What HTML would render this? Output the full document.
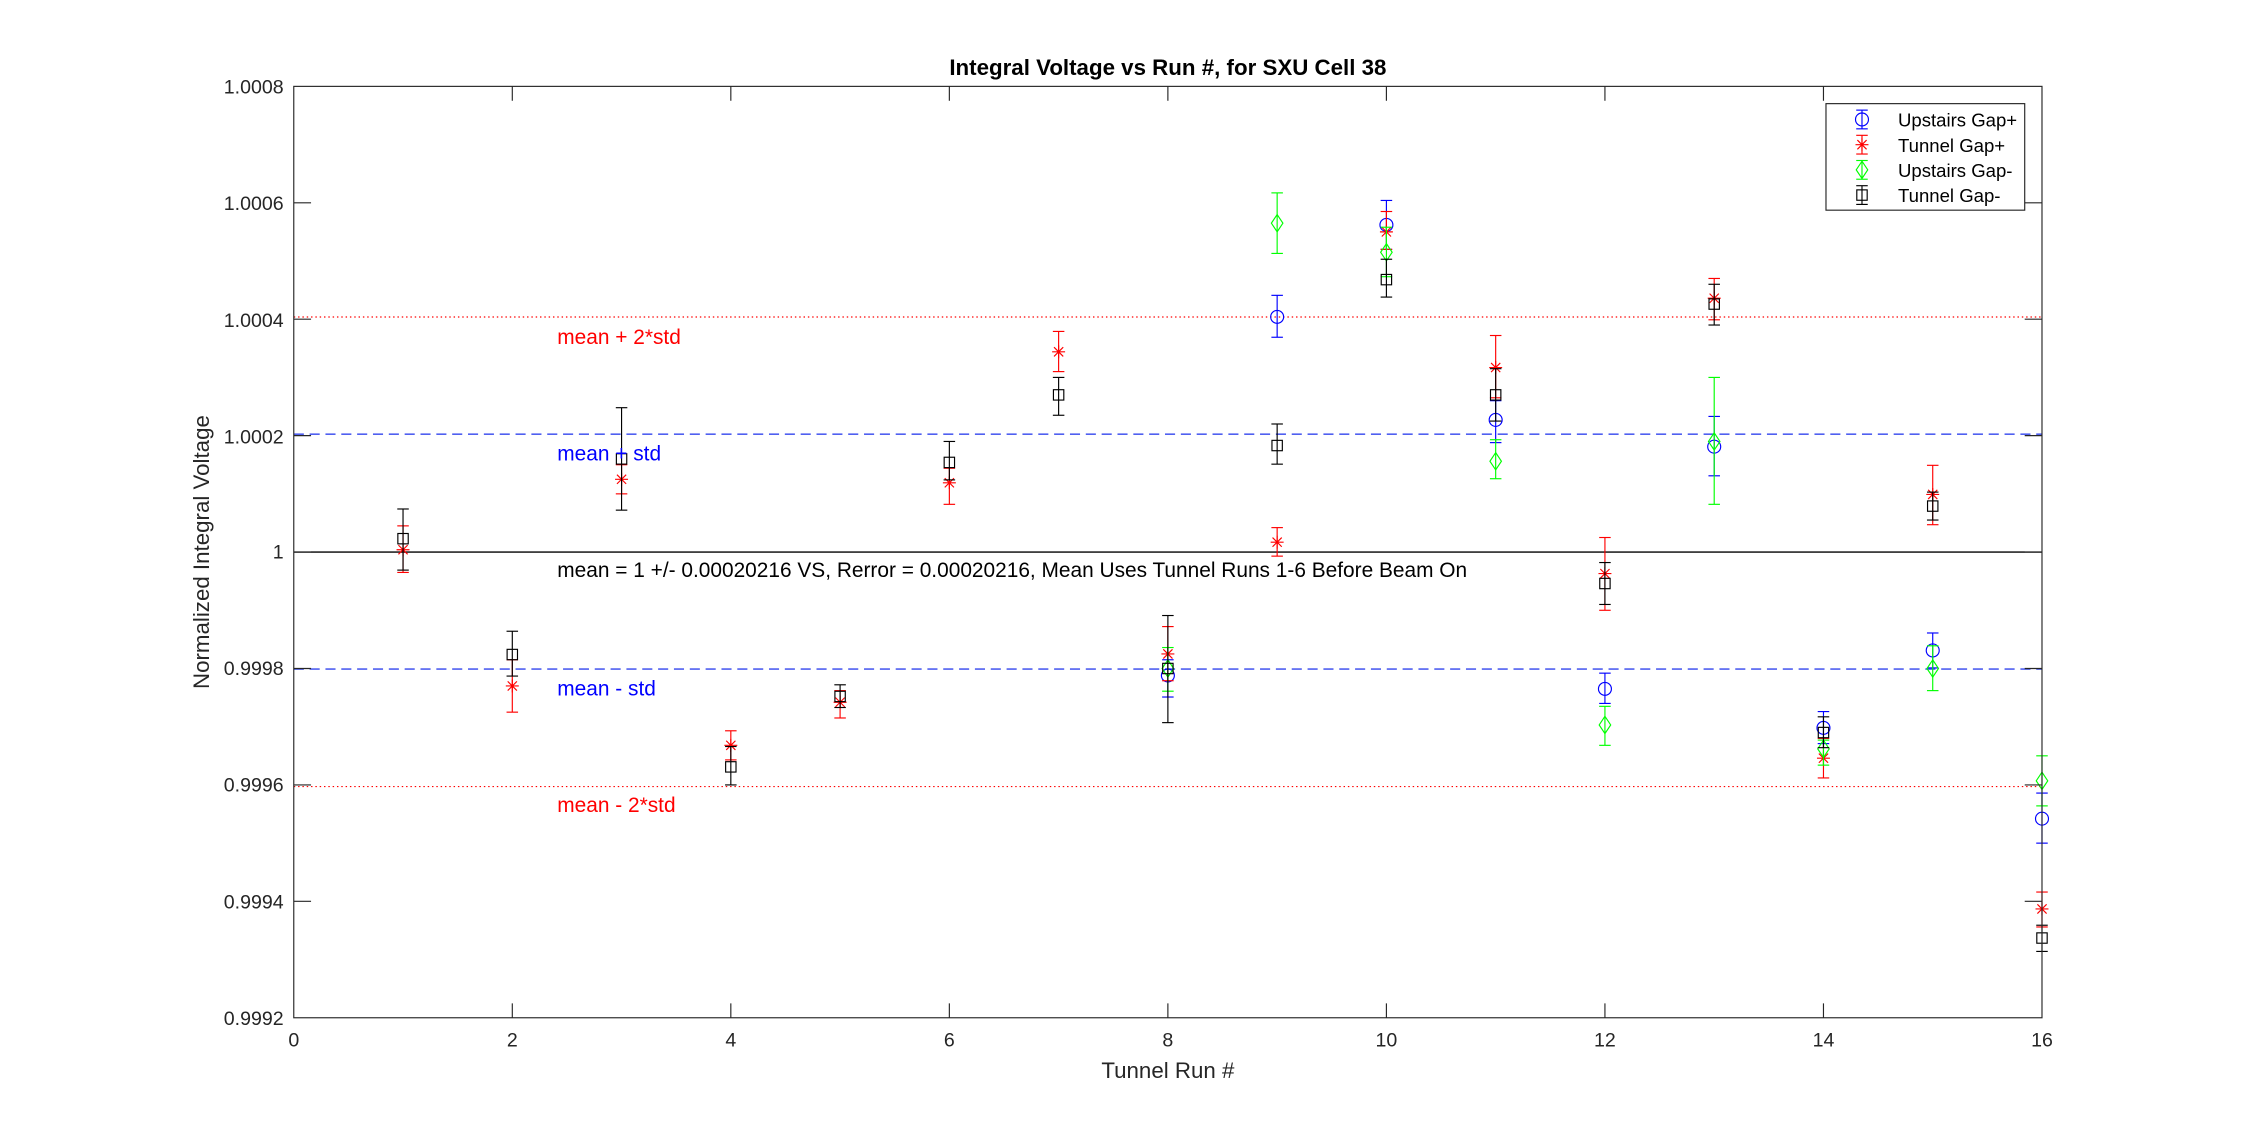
<!DOCTYPE html>
<html><head><meta charset="utf-8"><style>
html,body{margin:0;padding:0;background:#fff;}
svg{display:block;}
text{font-family:"Liberation Sans",Arial,sans-serif;}
</style></head><body>
<svg id="s" width="2258" height="1143" viewBox="0 0 1568 794" preserveAspectRatio="none" xmlns="http://www.w3.org/2000/svg">
<rect x="0" y="0" width="1568" height="794" fill="#fff"/>
<line x1="204" y1="220.2" x2="1418" y2="220.2" stroke="#f00" stroke-width="0.8" stroke-dasharray="1,2"/>
<line x1="204" y1="301.6" x2="1418" y2="301.6" stroke="#5060f0" stroke-width="1.1" stroke-dasharray="7,4"/>
<line x1="204" y1="464.8" x2="1418" y2="464.8" stroke="#5060f0" stroke-width="1.1" stroke-dasharray="7,4"/>
<line x1="204" y1="546.4" x2="1418" y2="546.4" stroke="#f00" stroke-width="0.8" stroke-dasharray="1,2"/>
<line x1="204" y1="383.5" x2="1418" y2="383.5" stroke="#000" stroke-width="1"/>
<g id="data" fill="none" stroke-width="0.8"></g>
<rect x="204" y="60" width="1214" height="647" fill="none" stroke="#262626" stroke-width="0.8"/>
<g id="ticks" stroke="#262626" stroke-width="0.8"></g>
<g font-size="13.6" fill="#262626" text-anchor="end">
<text x="197" y="65">1.0008</text>
<text x="197" y="146">1.0006</text>
<text x="197" y="227">1.0004</text>
<text x="197" y="308">1.0002</text>
<text x="197" y="388">1</text>
<text x="197" y="469">0.9998</text>
<text x="197" y="550">0.9996</text>
<text x="197" y="631">0.9994</text>
<text x="197" y="712">0.9992</text>
</g>
<g font-size="13.6" fill="#262626" text-anchor="middle">
<text x="204" y="727">0</text>
<text x="355.75" y="727">2</text>
<text x="507.5" y="727">4</text>
<text x="659.25" y="727">6</text>
<text x="811" y="727">8</text>
<text x="962.75" y="727">10</text>
<text x="1114.5" y="727">12</text>
<text x="1266.25" y="727">14</text>
<text x="1418" y="727">16</text>
<text x="811" y="749" font-size="15.5">Tunnel Run #</text>
<text x="811" y="52" font-size="15.5" font-weight="bold" fill="#000">Integral Voltage vs Run #, for SXU Cell 38</text>
<text transform="translate(145,383.5) rotate(-90)" font-size="15.5">Normalized Integral Voltage</text>
</g>
<g font-size="14.5">
<text x="387" y="239" fill="#f00">mean + 2*std</text>
<text x="387" y="320" fill="#00f">mean + std</text>
<text x="387" y="401" fill="#000">mean = 1 +/- 0.00020216 VS, Rerror = 0.00020216, Mean Uses Tunnel Runs 1-6 Before Beam On</text>
<text x="387" y="483" fill="#00f">mean - std</text>
<text x="387" y="564" fill="#f00">mean - 2*std</text>
</g>
<rect x="1268" y="72" width="138" height="74" fill="#fff" stroke="#262626" stroke-width="0.8"/>
<g font-size="12.9" fill="#000">
<text x="1318" y="88">Upstairs Gap+</text>
<text x="1318" y="105.5">Tunnel Gap+</text>
<text x="1318" y="123">Upstairs Gap-</text>
<text x="1318" y="140.5">Tunnel Gap-</text>
</g>
<g id="leg" fill="none" stroke-width="0.8"></g>
</svg>
<script>
var NS="http://www.w3.org/2000/svg";
function X(r){return 204+75.875*r;}
function Y(v){return 383.5-40.44*v;}
function el(p,t,a){var e=document.createElementNS(NS,t);for(var k in a)e.setAttribute(k,a[k]);p.appendChild(e);return e;}
var tk=document.getElementById('ticks');
for(var r=2;r<16;r+=2){el(tk,'line',{x1:X(r),y1:707,x2:X(r),y2:697});el(tk,'line',{x1:X(r),y1:60,x2:X(r),y2:70});}
for(var v=-6;v<=6;v+=2){el(tk,'line',{x1:204,y1:Y(v),x2:216,y2:Y(v)});el(tk,'line',{x1:1418,y1:Y(v),x2:1406,y2:Y(v)});}
function marker(g,type,x,y,c){
 if(type=='o')el(g,'circle',{cx:x,cy:y,r:4.5,stroke:c});
 else if(type=='d')el(g,'path',{d:'M'+x+' '+(y-6)+'L'+(x+4)+' '+y+'L'+x+' '+(y+6)+'L'+(x-4)+' '+y+'Z',stroke:c});
 else if(type=='s')el(g,'rect',{x:x-3.6,y:y-3.6,width:7.2,height:7.2,stroke:c});
 else if(type=='*'){var s=4.5;el(g,'path',{d:'M'+(x-s)+' '+y+'L'+(x+s)+' '+y+'M'+x+' '+(y-s)+'L'+x+' '+(y+s)+'M'+(x-3.2)+' '+(y-3.2)+'L'+(x+3.2)+' '+(y+3.2)+'M'+(x-3.2)+' '+(y+3.2)+'L'+(x+3.2)+' '+(y-3.2),stroke:c});}
}
function eb(g,x,yc,yt,yb,c,type){
 el(g,'line',{x1:x,y1:yt,x2:x,y2:yb,stroke:c});
 el(g,'line',{x1:x-4,y1:yt,x2:x+4,y2:yt,stroke:c});
 el(g,'line',{x1:x-4,y1:yb,x2:x+4,y2:yb,stroke:c});
 marker(g,type,x,yc,c);
}
var S=[
['#0000ff','o',[[8,-2.12,-1.85,-2.49],[9,4.04,4.41,3.69],[10,5.62,6.04,5.2],[11,2.27,2.6,1.88],[12,-2.35,-2.08,-2.6],[13,1.81,2.33,1.31],[14,-3.02,-2.74,-3.29],[15,-1.69,-1.39,-1.99],[16,-4.58,-4.14,-5.0]]],
['#ff0000','*',[[1,0.04,0.45,-0.35],[2,-2.3,-1.85,-2.75],[3,1.25,1.5,1.0],[4,-3.32,-3.07,-3.57],[5,-2.58,-2.38,-2.85],[6,1.19,1.44,0.82],[7,3.44,3.79,3.1],[8,-1.75,-1.28,-2.21],[9,0.17,0.42,-0.07],[10,5.5,5.85,5.2],[11,3.17,3.72,2.65],[12,-0.37,0.25,-1.0],[13,4.36,4.7,3.99],[14,-3.54,-3.2,-3.88],[15,0.99,1.49,0.47],[16,-6.13,-5.84,-6.44]]],
['#00ff00','d',[[8,-2.0,-1.64,-2.39],[9,5.65,6.17,5.13],[10,5.15,5.58,4.73],[11,1.56,1.93,1.26],[12,-2.97,-2.65,-3.32],[13,1.9,3.0,0.82],[14,-3.38,-3.23,-3.66],[15,-2.0,-1.61,-2.38],[16,-3.93,-3.5,-4.36]]],
['#000000','s',[[1,0.23,0.74,-0.31],[2,-1.76,-1.36,-2.13],[3,1.6,2.48,0.72],[4,-3.69,-3.34,-4.0],[5,-2.48,-2.28,-2.67],[6,1.54,1.9,1.24],[7,2.7,3.0,2.35],[8,-2.0,-1.09,-2.93],[9,1.83,2.2,1.51],[10,4.68,5.03,4.38],[11,2.7,3.15,2.25],[12,-0.54,-0.18,-0.9],[13,4.26,4.6,3.9],[14,-3.1,-2.83,-3.36],[15,0.79,1.03,0.55],[16,-6.63,-6.41,-6.86]]]
];
var dg=document.getElementById('data'),lg=document.getElementById('leg');
S.forEach(function(s,i){
 s[2].forEach(function(p){eb(dg,X(p[0]),Y(p[1]),Y(p[2]),Y(p[3]),s[0],s[1]);});
 var ly=83+i*17.5;
 eb(lg,1293,ly,ly-6.5,ly+6.5,s[0],s[1]);
});
</script>
</body></html>
